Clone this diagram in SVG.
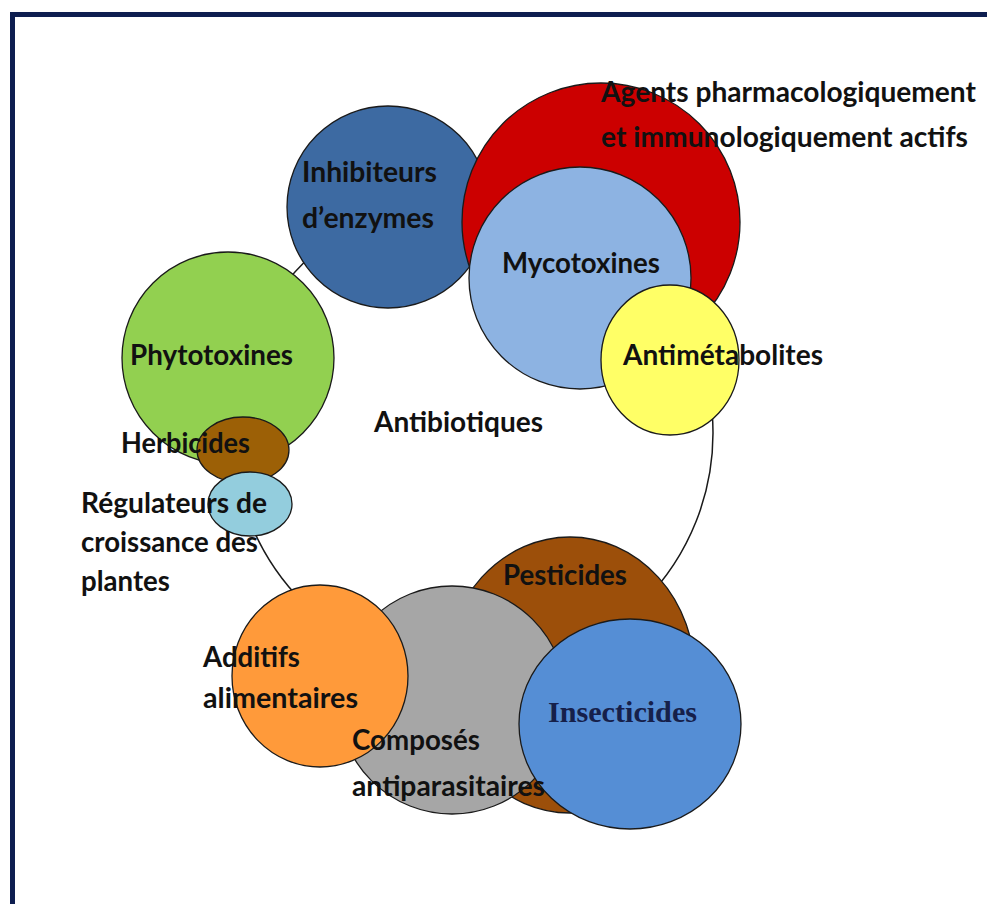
<svg xmlns="http://www.w3.org/2000/svg" width="987" height="904" viewBox="0 0 987 904">
<style>
.n{stroke:#1a1a1a;stroke-width:1.3}
.t{font-family:Lato,"Open Sans","Liberation Sans",sans-serif;font-weight:bold;font-size:28px;fill:#111}
.s{font-family:"Liberation Serif","DejaVu Serif",serif;font-weight:bold;font-size:30px;fill:#16204a}
</style>
<rect x="0" y="0" width="987" height="904" fill="#ffffff"/>
<rect x="12.5" y="14.5" width="1000" height="1000" fill="none" stroke="#0e1e50" stroke-width="5"/>
<g id="connectors">
<circle cx="473" cy="433" r="240" fill="none" stroke="#1a1a1a" stroke-width="1.5"/>
</g>
<g id="inhibiteurs">
<circle class="n" cx="388" cy="207" r="101" fill="#3d6aa2"/>
</g>
<g id="agents">
<circle class="n" cx="601" cy="222" r="139" fill="#cc0000"/>
</g>
<g id="mycotoxines">
<circle class="n" cx="580" cy="278" r="111" fill="#8db3e2"/>
</g>
<g id="antimetabolites">
<ellipse class="n" cx="670" cy="360" rx="69" ry="75" fill="#ffff66"/>
</g>
<g id="phytotoxines">
<circle class="n" cx="228" cy="358" r="106" fill="#92d050"/>
</g>
<g id="herbicides">
<ellipse class="n" cx="243" cy="450" rx="46" ry="33" fill="#9c6006"/>
</g>
<g id="regulateurs">
<ellipse class="n" cx="250" cy="504" rx="42" ry="32" fill="#93cddd"/>
</g>
<g id="pesticides">
<ellipse class="n" cx="570" cy="675" rx="125" ry="138" fill="#9c4f0a"/>
</g>
<g id="composes">
<circle class="n" cx="452" cy="700" r="114" fill="#a6a6a6"/>
</g>
<g id="additifs">
<ellipse class="n" cx="320" cy="676" rx="88" ry="91" fill="#ff9a3a"/>
</g>
<g id="insecticides">
<ellipse class="n" cx="630" cy="724" rx="111" ry="105" fill="#558ed5"/>
</g>
<g id="labels">
<text class="t" x="302" y="182" textLength="135" lengthAdjust="spacingAndGlyphs">Inhibiteurs</text>
<text class="t" x="302" y="228" textLength="132" lengthAdjust="spacingAndGlyphs">d’enzymes</text>
<text class="t" x="502" y="273" textLength="158" lengthAdjust="spacingAndGlyphs">Mycotoxines</text>
<text class="t" x="601" y="102" textLength="375" lengthAdjust="spacingAndGlyphs">Agents pharmacologiquement</text>
<text class="t" x="601" y="147" textLength="367" lengthAdjust="spacingAndGlyphs">et immunologiquement actifs</text>
<text class="t" x="623" y="365" textLength="200" lengthAdjust="spacingAndGlyphs">Antimétabolites</text>
<text class="t" x="130" y="365" textLength="163" lengthAdjust="spacingAndGlyphs">Phytotoxines</text>
<text class="t" x="374" y="432" textLength="169" lengthAdjust="spacingAndGlyphs">Antibiotiques</text>
<text class="t" x="121" y="453" textLength="129" lengthAdjust="spacingAndGlyphs">Herbicides</text>
<text class="t" x="81" y="513" textLength="186" lengthAdjust="spacingAndGlyphs">Régulateurs de</text>
<text class="t" x="81" y="552" textLength="177" lengthAdjust="spacingAndGlyphs">croissance des</text>
<text class="t" x="81" y="591" textLength="89" lengthAdjust="spacingAndGlyphs">plantes</text>
<text class="t" x="203" y="667" textLength="97" lengthAdjust="spacingAndGlyphs">Additifs</text>
<text class="t" x="203" y="708" textLength="155" lengthAdjust="spacingAndGlyphs">alimentaires</text>
<text class="t" x="352" y="750" textLength="128" lengthAdjust="spacingAndGlyphs">Composés</text>
<text class="t" x="352" y="796" textLength="193" lengthAdjust="spacingAndGlyphs">antiparasitaires</text>
<text class="t" x="503" y="585" textLength="124" lengthAdjust="spacingAndGlyphs">Pesticides</text>
<text class="s" x="548" y="722" textLength="149" lengthAdjust="spacingAndGlyphs">Insecticides</text>
</g>
</svg>
